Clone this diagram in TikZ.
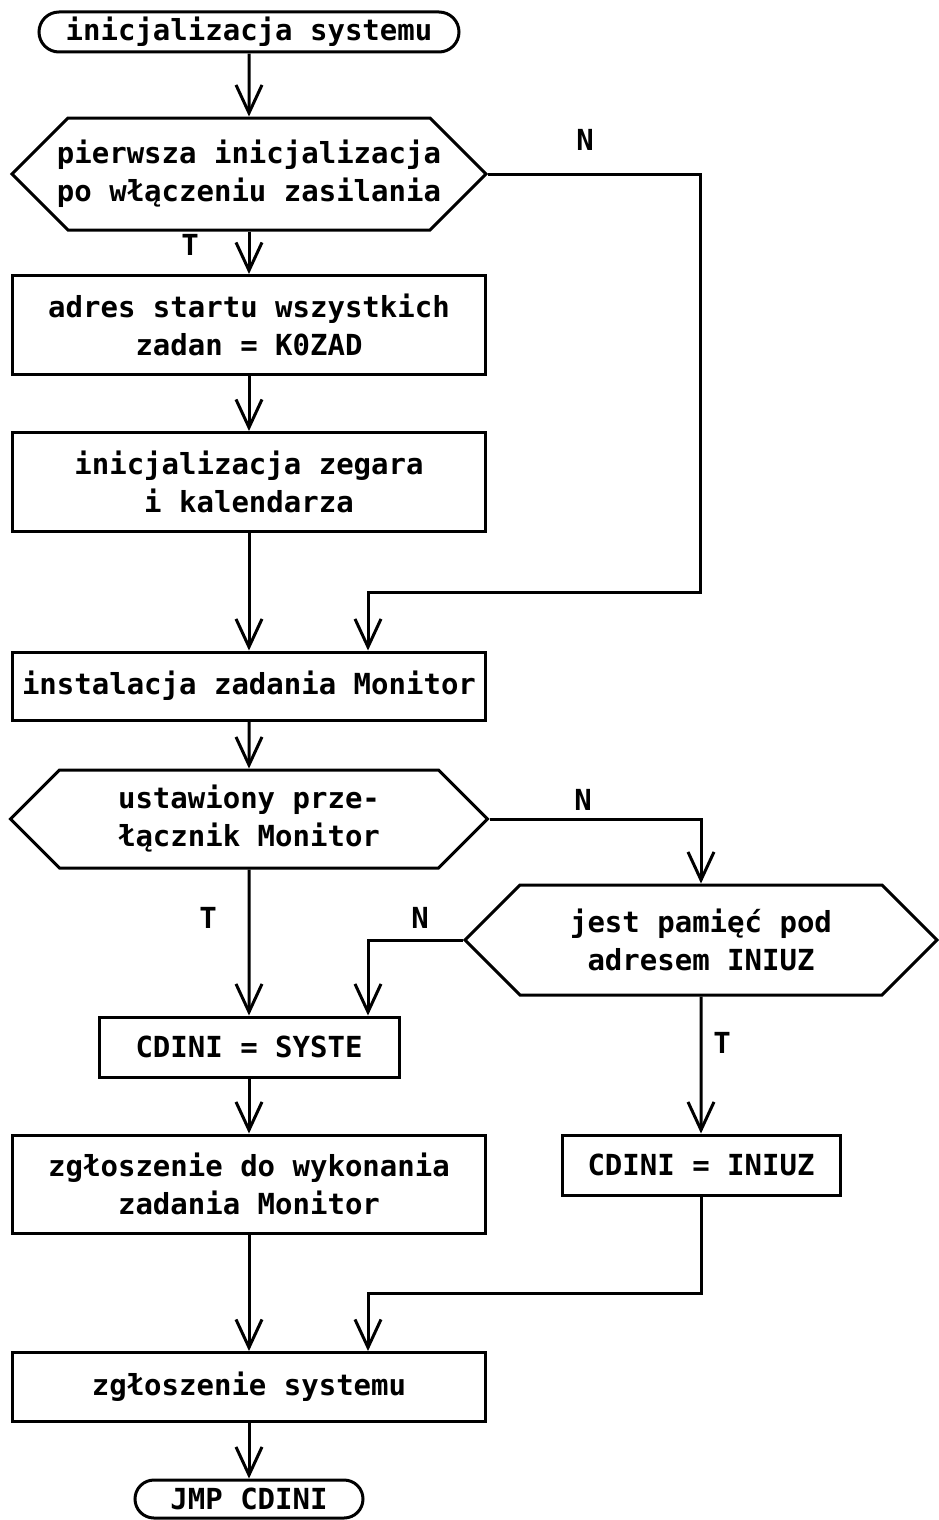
\documentclass[tikz,border=0pt]{standalone}
\usepackage{fontspec}
\setmonofont{DejaVu Sans Mono}
\usetikzlibrary{shapes.misc}
\usetikzlibrary{shapes.symbols}
\usetikzlibrary{arrows.meta}

\begin{document}
\begin{tikzpicture}[x=1pt,y=1pt,yscale=-1,
    every node/.style={font=\ttfamily\bfseries\fontsize{29}{38}\selectfont, align=center, inner sep=0pt},
    box/.style={draw, rectangle, line width=3pt},
    term/.style={draw, rounded rectangle, line width=3pt},
    decis/.style={draw, signal, signal to=east and west, line width=3pt},
    flow/.style={line width=3pt, -{Straight Barb[length=28pt,width=26pt,line width=3pt]}}]
    \fill[white] (0,0) rectangle (939,1520);
    \useasboundingbox (0,0) rectangle (939,1520);

    % Main column
    \node[term, minimum width=420, minimum height=40] (start) at (249,32) {inicjalizacja systemu};
    \node[decis, inner xsep=-11pt, minimum width=473, minimum height=112] (pierw) at (249,174) {pierwsza inicjalizacja\\po włączeniu zasilania};
    \node[box, minimum width=473, minimum height=99] (adres) at (249,325) {adres startu wszystkich\\zadan = K0ZAD};
    \node[box, minimum width=473, minimum height=99] (zegar) at (249,482) {inicjalizacja zegara\\i kalendarza};
    \node[box, minimum width=473, minimum height=68] (monit) at (249,686) {instalacja zadania Monitor};
    \node[decis, minimum width=477, minimum height=98] (przel) at (249,819) {ustawiony prze-\\łącznik Monitor};
    \node[box, minimum width=300, minimum height=60] (syste) at (249,1047) {CDINI = SYSTE};
    \node[box, minimum width=473, minimum height=98] (zglmon) at (249,1184) {zgłoszenie do wykonania\\zadania Monitor};
    \node[box, minimum width=473, minimum height=69] (zglsys) at (249,1387) {zgłoszenie systemu};
    \node[term, minimum width=228, minimum height=38] (jmp) at (249,1499) {JMP CDINI};

    % Right column
    \node[decis, minimum width=472, minimum height=110] (pamiec) at (701,940) {jest pamięć pod\\adresem INIUZ};
    \node[box, minimum width=278, minimum height=60] (iniuz) at (701,1165) {CDINI = INIUZ};

    % Bend points
    \coordinate (k1) at (700,592);
    \coordinate (k2) at (368,1293);

    % Connectors
    \draw[flow] (start) -- (pierw);
    \draw[flow] (pierw) -- (adres);
    \draw[flow] (adres) -- (zegar);
    \draw[flow] (zegar) -- (monit);
    \draw[flow] (pierw.east) -| (k1) -| ([xshift=119]monit.north);
    \draw[flow] (monit) -- (przel);
    \draw[flow] (przel.east) -| (pamiec.north);
    \draw[flow] (przel) -- (syste);
    \draw[flow] (pamiec.west) -| ([xshift=119]syste.north);
    \draw[flow] (pamiec) -- (iniuz);
    \draw[flow] (syste) -- (zglmon);
    \draw[flow] (zglmon) -- (zglsys);
    \draw[flow] (iniuz.south) |- (k2) -- (k2 |- zglsys.north);
    \draw[flow] (zglsys) -- (jmp);

    % Labels
    \node (t1) at (190,245) {T};
    \node (n1) at (585,140) {N};
    \node (n2) at (583,800) {N};
    \node (t2) at (208,918) {T};
    \node (n3) at (420,918) {N};
    \node (t3) at (722,1043) {T};
\end{tikzpicture}
\end{document}
